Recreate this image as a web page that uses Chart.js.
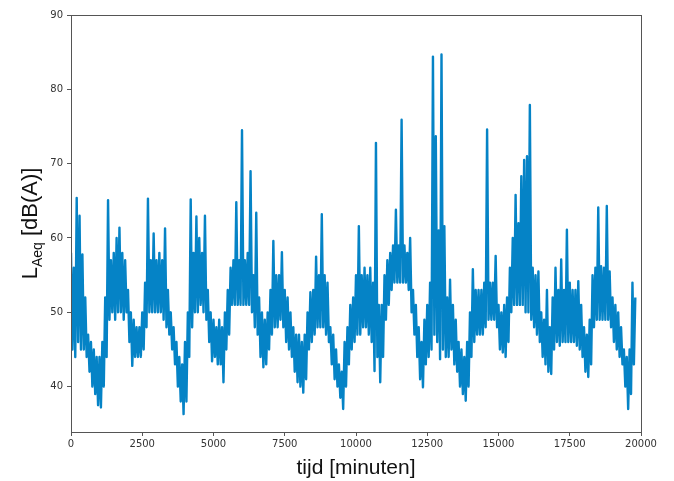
<!DOCTYPE html>
<html>
<head>
<meta charset="utf-8">
<script src="https://cdn.jsdelivr.net/npm/chart.js@4/dist/chart.umd.min.js"></script>
<style>
  html, body { margin: 0; padding: 0; background: #fff; }
  #wrap { position: relative; width: 674px; height: 481px; }
  canvas { display: block; }
</style>
</head>
<body>
<div id="wrap"><canvas id="c" width="674" height="481"></canvas></div>
<script>
// ---- data ----
// one value every 50 minutes, starting at minute 0
const startMinute = 0;
const stepMinutes = 50;
const laeq = [
  // 0 - 950
  58, 45, 56, 44, 65.4, 46, 63, 45, 57.8, 45, 52, 44, 47, 42, 46, 40, 45, 39, 44, 37.5,
  // 1000 - 1950
  44, 37.2, 46, 40, 52, 44, 65.1, 49, 57, 50, 58, 49, 60, 50, 61.4, 50, 58, 49, 57, 50,
  // 2000 - 2950
  53, 46, 50, 42.8, 49, 44, 48, 44, 48, 44, 50, 45, 54, 48, 65.3, 50, 57, 50, 60.6, 50,
  // 3000 - 3950
  57, 50, 58, 50, 57, 49, 61.3, 48, 53, 47, 50, 45, 48, 43, 46, 40, 44, 38, 43, 36.3,
  // 4000 - 4950
  46, 38, 50, 44, 65.2, 48, 58, 50, 62.9, 50, 60, 51, 58, 50, 63, 49, 53, 46, 50, 43.4,
  // 5000 - 5950
  49, 44, 48, 43, 49, 43, 48, 40.6, 50, 45, 53, 47, 56, 51, 57, 51, 64.8, 51, 57, 51,
  // 6000 - 6950
  74.5, 51, 57, 51, 58, 51, 69, 50, 55, 48, 63.4, 47, 52, 44, 50, 42.6, 49, 43, 50, 45,
  // 7000 - 7950
  53, 47, 59.6, 48, 55, 48, 55, 49, 58.1, 48, 53, 46, 52, 45, 50, 44, 48, 42, 47, 40.6,
  // 8000 - 8950
  47, 40, 46, 39.2, 47, 41, 50, 45, 52.7, 46, 53, 47, 57.5, 48, 55, 48, 63.2, 48, 55, 47,
  // 9000 - 9950
  54, 46, 48, 43, 47, 41, 45, 40, 43, 38.5, 42, 37, 46, 40, 48, 43, 51, 45, 52, 46,
  // 10000 - 10950
  55, 47, 61.6, 47, 55, 48, 56, 48, 55, 47, 56, 46, 54, 42.1, 72.8, 44, 51, 40.6, 51, 44,
  // 11000 - 11950
  55, 49, 57, 51, 58, 53, 59, 54, 63.8, 54, 59, 54, 75.9, 54, 59, 54, 58, 53, 60, 50,
  // 12000 - 12950
  53, 47, 51, 44, 48, 41, 46, 39.9, 49, 43, 51, 44, 54, 45, 84.4, 47, 73.7, 46, 61, 43.7,
  // 13000 - 13950
  84.7, 45, 61.6, 44, 52, 44, 54.4, 45, 51, 43, 49, 42, 46, 40, 45, 39, 44, 38.1, 46, 40,
  // 14000 - 14950
  50, 44, 55.8, 46, 53, 47, 53, 47, 53, 47, 54, 48, 74.6, 49, 54, 49, 54, 49, 57.6, 48,
  // 15000 - 15950
  51, 45, 50, 44.6, 51, 44, 52, 46, 56, 50, 60, 51, 65.8, 51, 62, 51, 68.3, 51, 70.5, 50,
  // 16000 - 16950
  71, 50, 77.9, 49, 56, 48, 55, 47, 55.5, 46, 50, 44, 49, 43, 53, 42, 48, 41.7, 52, 45,
  // 17000 - 17950
  56, 46, 53, 45.5, 57.1, 46, 53, 46, 61.1, 46, 54, 46, 53, 46, 53, 45.5, 54.2, 45, 51, 44,
  // 18000 - 18950
  48, 42, 47, 41.3, 49, 43, 55, 48, 56, 49, 64.1, 49, 56.2, 49, 56, 49, 64.3, 49, 55.5, 48,
  // 19000 - 19800
  52, 46, 51, 45, 50, 44, 48, 43, 45, 40, 44, 37, 45, 39, 54, 43, 52
];
const xTicks = [0, 2500, 5000, 7500, 10000, 12500, 15000, 17500, 20000];
const yTicks = [40, 50, 60, 70, 80, 90];
const xTitle = 'tijd [minuten]';
const yTitleMain = 'L';
const yTitleSub = 'Aeq';
const yTitleRest = ' [dB(A)]';

// ---- chart ----
const points = laeq.map((v, i) => ({ x: startMinute + i * stepMinutes, y: v }));
const axisColor = '#555';
const tickFont = { family: 'DejaVu Sans', size: 10 };

const framePlugin = {
  id: 'frame',
  afterDatasetsDraw(chart) {
    const { ctx, chartArea: a } = chart;
    ctx.save();
    ctx.strokeStyle = axisColor;
    ctx.lineWidth = 1;
    ctx.strokeRect(Math.round(a.left) + 0.5, Math.round(a.top) + 0.5,
                   Math.round(a.right - a.left), Math.round(a.bottom - a.top));
    ctx.restore();
  }
};

const yTitlePlugin = {
  id: 'ytitle',
  afterDraw(chart) {
    const { ctx, chartArea: a } = chart;
    ctx.save();
    ctx.fillStyle = '#111';
    ctx.textBaseline = 'alphabetic';
    const mainFont = '22px "Liberation Sans", Arial, sans-serif';
    const subFont = '14px "Liberation Sans", Arial, sans-serif';
    ctx.font = mainFont;
    const wL = ctx.measureText(yTitleMain).width;
    const wR = ctx.measureText(yTitleRest).width;
    ctx.font = subFont;
    const wS = ctx.measureText(yTitleSub).width;
    const total = wL + wS + wR;
    const cy = (a.top + a.bottom) / 2;
    ctx.translate(37, cy);
    ctx.rotate(-Math.PI / 2);
    let x = -total / 2;
    ctx.font = mainFont;
    ctx.fillText(yTitleMain, x, 0);
    x += wL;
    ctx.font = subFont;
    ctx.fillText(yTitleSub, x, 5);
    x += wS;
    ctx.font = mainFont;
    ctx.fillText(yTitleRest, x, 0);
    ctx.restore();
  }
};

new Chart(document.getElementById('c'), {
  type: 'line',
  data: {
    datasets: [{
      data: points,
      borderColor: '#0583c6',
      borderWidth: 2.4,
      borderJoinStyle: 'round',
      pointRadius: 0,
      tension: 0,
      fill: false
    }]
  },
  options: {
    responsive: false,
    animation: false,
    events: [],
    layout: { padding: { top: 15, right: 33, left: 0, bottom: 0 } },
    plugins: { legend: { display: false }, tooltip: { enabled: false } },
    scales: {
      x: {
        type: 'linear',
        min: 0,
        max: 20000,
        afterBuildTicks(axis) { axis.ticks = xTicks.map(v => ({ value: v })); },
        afterFit(scale) { scale.height = 49; },
        grid: { drawOnChartArea: false, drawTicks: true, tickLength: 4, color: axisColor },
        border: { display: false },
        ticks: { color: '#333', font: tickFont, padding: 2, maxRotation: 0,
                 callback: v => String(v) },
        title: { display: true, text: xTitle, color: '#111',
                 font: { family: '"Liberation Sans", Arial, sans-serif', size: 21 },
                 padding: { top: 4, bottom: 0 } }
      },
      y: {
        type: 'linear',
        min: 33.9,
        max: 90,
        afterBuildTicks(axis) { axis.ticks = yTicks.map(v => ({ value: v })); },
        afterFit(scale) { scale.width = 71; },
        grid: { drawOnChartArea: false, drawTicks: true, tickLength: 4, color: axisColor },
        border: { display: false },
        ticks: { color: '#333', font: tickFont, padding: 4,
                 callback: v => String(v) }
      }
    }
  },
  plugins: [framePlugin, yTitlePlugin]
});
</script>
</body>
</html>
